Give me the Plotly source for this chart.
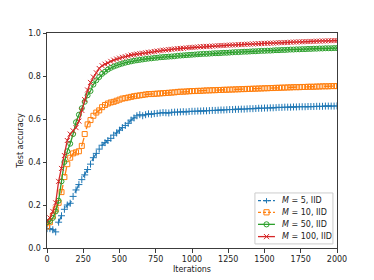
import plotly.graph_objects as go

iterations = list(range(0, 2001, 20))

acc_m5 = [0.090, 0.090, 0.085, 0.075, 0.120, 0.150, 0.180, 0.200, 0.208, 0.240,
          0.270, 0.295, 0.318, 0.340, 0.365, 0.390, 0.420, 0.440, 0.460, 0.478,
          0.490, 0.500, 0.510, 0.525, 0.535, 0.548, 0.560, 0.570, 0.580, 0.595,
          0.605, 0.615, 0.620, 0.615, 0.620, 0.624, 0.622, 0.625, 0.626, 0.628,
          0.630, 0.629, 0.628, 0.631, 0.632, 0.632, 0.633, 0.634, 0.633, 0.635,
          0.636, 0.636, 0.637, 0.637, 0.638, 0.638, 0.639, 0.640, 0.640, 0.641,
          0.642, 0.642, 0.643, 0.644, 0.644, 0.645, 0.645, 0.646, 0.646, 0.647,
          0.648, 0.648, 0.649, 0.650, 0.650, 0.651, 0.651, 0.652, 0.652, 0.653,
          0.654, 0.654, 0.655, 0.655, 0.655, 0.656, 0.656, 0.657, 0.657, 0.657,
          0.658, 0.658, 0.658, 0.659, 0.659, 0.659, 0.660, 0.660, 0.660, 0.660,
          0.661]

acc_m10 = [0.100, 0.120, 0.150, 0.180, 0.210, 0.260, 0.330, 0.390, 0.420, 0.440,
           0.445, 0.450, 0.475, 0.530, 0.575, 0.595, 0.615, 0.630, 0.640, 0.655,
           0.665, 0.672, 0.677, 0.680, 0.685, 0.690, 0.695, 0.697, 0.700, 0.703,
           0.706, 0.708, 0.710, 0.712, 0.714, 0.716, 0.716, 0.717, 0.718, 0.719,
           0.720, 0.721, 0.722, 0.723, 0.724, 0.726, 0.727, 0.727, 0.728, 0.729,
           0.730, 0.730, 0.731, 0.731, 0.732, 0.733, 0.733, 0.734, 0.734, 0.735,
           0.735, 0.736, 0.736, 0.737, 0.737, 0.738, 0.738, 0.739, 0.739, 0.740,
           0.740, 0.741, 0.741, 0.742, 0.742, 0.743, 0.743, 0.744, 0.744, 0.745,
           0.745, 0.746, 0.746, 0.747, 0.747, 0.748, 0.748, 0.748, 0.749, 0.749,
           0.750, 0.750, 0.750, 0.751, 0.751, 0.752, 0.752, 0.752, 0.753, 0.753,
           0.753]

acc_m50 = [0.120, 0.125, 0.140, 0.170, 0.220, 0.310, 0.400, 0.450, 0.485, 0.530,
           0.585, 0.620, 0.650, 0.680, 0.710, 0.730, 0.760, 0.780, 0.795, 0.810,
           0.820, 0.830, 0.838, 0.844, 0.849, 0.854, 0.858, 0.862, 0.865, 0.868,
           0.871, 0.873, 0.875, 0.877, 0.879, 0.881, 0.882, 0.884, 0.885, 0.887,
           0.888, 0.889, 0.890, 0.891, 0.892, 0.894, 0.895, 0.896, 0.897, 0.898,
           0.899, 0.900, 0.901, 0.902, 0.903, 0.903, 0.904, 0.905, 0.906, 0.906,
           0.907, 0.908, 0.908, 0.909, 0.910, 0.911, 0.911, 0.912, 0.913, 0.913,
           0.914, 0.915, 0.915, 0.916, 0.917, 0.917, 0.918, 0.918, 0.919, 0.920,
           0.920, 0.921, 0.921, 0.922, 0.923, 0.923, 0.924, 0.924, 0.925, 0.925,
           0.926, 0.926, 0.927, 0.927, 0.928, 0.928, 0.929, 0.929, 0.929, 0.930,
           0.930]

acc_m100 = [0.125, 0.140, 0.170, 0.210, 0.310, 0.370, 0.430, 0.500, 0.530, 0.545,
            0.560, 0.590, 0.640, 0.690, 0.735, 0.770, 0.795, 0.815, 0.835, 0.848,
            0.855, 0.860, 0.868, 0.874, 0.879, 0.883, 0.887, 0.890, 0.894, 0.897,
            0.900, 0.902, 0.904, 0.906, 0.908, 0.910, 0.912, 0.914, 0.916, 0.918,
            0.920, 0.921, 0.923, 0.924, 0.926, 0.927, 0.928, 0.929, 0.931, 0.932,
            0.933, 0.934, 0.935, 0.936, 0.937, 0.938, 0.938, 0.939, 0.940, 0.941,
            0.942, 0.942, 0.943, 0.944, 0.944, 0.945, 0.946, 0.946, 0.947, 0.948,
            0.948, 0.949, 0.950, 0.950, 0.951, 0.952, 0.952, 0.953, 0.953, 0.954,
            0.955, 0.955, 0.956, 0.956, 0.957, 0.958, 0.958, 0.959, 0.959, 0.960,
            0.960, 0.961, 0.961, 0.962, 0.962, 0.963, 0.963, 0.964, 0.964, 0.965,
            0.965]

series_names = ["<i>M</i> = 5, IID", "<i>M</i> = 10, IID",
                "<i>M</i> = 50, IID", "<i>M</i> = 100, IID"]
series_values = [acc_m5, acc_m10, acc_m50, acc_m100]
colors = ["#1f77b4", "#ff7f0e", "#2ca02c", "#d62728"]
dashes = ["dash", "dash", "solid", "solid"]
symbols = ["cross-thin", "square-open", "circle-open", "x-thin"]

fig = go.Figure()
for name, vals, c, d, s in zip(series_names, series_values, colors, dashes, symbols):
    fig.add_trace(go.Scatter(
        x=iterations, y=vals, name=name, mode="lines+markers",
        line=dict(color=c, width=1.3, dash=d),
        marker=dict(symbol=s, size=5, color=c, line=dict(color=c, width=1)),
        showlegend=False,
    ))

# ---- custom compact legend (matplotlib-like) ----
shapes = []
annotations = []
shapes.append(dict(type="rect", xref="paper", yref="paper",
                   x0=0.717, x1=0.986, y0=0.019, y1=0.256,
                   line=dict(color="#cccccc", width=1),
                   fillcolor="rgba(255,255,255,0.85)", layer="above"))
row_y = [0.220, 0.166, 0.110, 0.053]
line_x0, line_x1, mark_x, text_x = 0.7276, 0.786, 0.757, 0.803
r = 2.6
for name, c, d, s, yy in zip(series_names, colors, dashes, symbols, row_y):
    shapes.append(dict(type="line", xref="paper", yref="paper",
                       x0=line_x0, x1=line_x1, y0=yy, y1=yy,
                       line=dict(color=c, width=1.3, dash="3px,2px" if d == "dash" else "solid"),
                       layer="above"))
    common = dict(xref="paper", yref="paper", xsizemode="pixel", ysizemode="pixel",
                  xanchor=mark_x, yanchor=yy, layer="above")
    if s == "cross-thin":
        shapes.append(dict(type="line", x0=-r, x1=r, y0=0, y1=0, line=dict(color=c, width=1), **common))
        shapes.append(dict(type="line", x0=0, x1=0, y0=-r, y1=r, line=dict(color=c, width=1), **common))
    elif s == "square-open":
        shapes.append(dict(type="rect", x0=-r, x1=r, y0=-r, y1=r,
                           line=dict(color=c, width=1), fillcolor="rgba(0,0,0,0)", **common))
    elif s == "circle-open":
        shapes.append(dict(type="circle", x0=-r, x1=r, y0=-r, y1=r,
                           line=dict(color=c, width=1), fillcolor="rgba(0,0,0,0)", **common))
    else:
        shapes.append(dict(type="line", x0=-r, x1=r, y0=-r, y1=r, line=dict(color=c, width=1), **common))
        shapes.append(dict(type="line", x0=-r, x1=r, y0=r, y1=-r, line=dict(color=c, width=1), **common))
    annotations.append(dict(xref="paper", yref="paper", x=text_x, y=yy, text=name,
                            xanchor="left", yanchor="middle", showarrow=False,
                            font=dict(size=8, color="#222")))

axis_common = dict(
    showline=True, linecolor="rgb(60,60,60)", linewidth=1, mirror=True,
    ticks="outside", ticklen=3.5, tickwidth=1, tickcolor="rgb(60,60,60)",
    showgrid=False, zeroline=False,
    tickfont=dict(size=8, color="#222"),
)

fig.update_layout(
    width=374, height=280,
    margin=dict(l=39, r=45, t=25, b=40),
    paper_bgcolor="white", plot_bgcolor="white",
    font=dict(family="DejaVu Sans", size=8, color="#222"),
    xaxis=dict(range=[0, 2000], tick0=0, dtick=250,
               title=dict(text="Iterations", font=dict(size=8), standoff=3),
               **axis_common),
    yaxis=dict(range=[0, 1.0], tick0=0, dtick=0.2, tickformat=".1f",
               title=dict(text="Test accuracy", font=dict(size=8), standoff=3),
               **axis_common),
    shapes=shapes,
    annotations=annotations,
    showlegend=False,
)

fig.write_html("out.html")
